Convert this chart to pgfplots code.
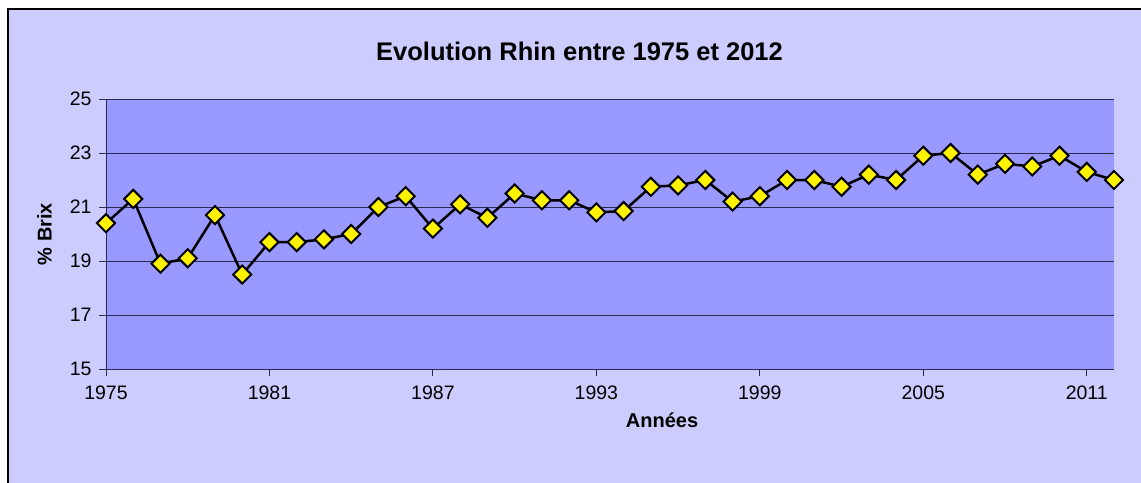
\documentclass[border=0pt]{standalone}
\usepackage{pgfplots}
\pgfplotsset{compat=1.18}
\usepackage{fontspec}
\setmainfont{Liberation Sans}
\definecolor{bglav}{HTML}{CCCCFF}
\definecolor{plotbg}{HTML}{9999FF}
\definecolor{gridc}{HTML}{2A2A50}
\begin{document}
\begin{tikzpicture}
\useasboundingbox (0,0) rectangle (1141bp,-483bp);
\fill[white] (0,0) rectangle (1141bp,-483bp);
\fill[bglav] (8bp,-9bp) rectangle (1141bp,-483bp);
\draw[black, line width=1.5bp] (8bp,-483bp) -- (8bp,-9bp) -- (1141bp,-9bp);
\begin{axis}[
  at={(106bp,-369bp)}, anchor=south west,
  scale only axis, width=1008bp, height=270bp,
  xmin=1975, xmax=2012, ymin=15, ymax=25,
  xtick={1975,1981,...,2011}, ytick={15,17,...,25},
  axis x line*=bottom, axis y line*=left,
  axis line style={gridc, line width=1bp, -},
  ymajorgrids, grid style={gridc, line width=1bp},
  xtick align=outside, ytick align=outside,
  xtick style={gridc, line width=1bp},
  ytick style={gridc, line width=1bp},
  major tick length=7bp,
  axis background/.style={fill=plotbg},
  clip=false,
  tick label style={font=\fontsize{19.5bp}{22bp}\selectfont},
  xticklabel style={yshift=-6bp},
  yticklabel style={xshift=-4bp},
  /pgf/number format/1000 sep={},
  /pgf/number format/assume math mode=true,
]
\addplot[black, line width=2.5bp, mark=square*, mark size=6.4bp,
  mark options={fill=yellow, draw=black, line width=2bp, rotate=45}] coordinates {
(1975,20.4) (1976,21.3) (1977,18.9) (1978,19.1) (1979,20.7) (1980,18.5)
(1981,19.7) (1982,19.7) (1983,19.8) (1984,20.0) (1985,21.0) (1986,21.4)
(1987,20.2) (1988,21.1) (1989,20.6) (1990,21.5) (1991,21.25) (1992,21.25)
(1993,20.8) (1994,20.85) (1995,21.75) (1996,21.8) (1997,22.0) (1998,21.2)
(1999,21.4) (2000,22.0) (2001,22.0) (2002,21.75) (2003,22.2) (2004,22.0)
(2005,22.9) (2006,23.0) (2007,22.2) (2008,22.6) (2009,22.5) (2010,22.9)
(2011,22.3) (2012,22.0)
};
\end{axis}
\node[font=\bfseries\fontsize{25.5bp}{30bp}\selectfont] at (579.5bp,-51bp) {Evolution Rhin entre 1975 et 2012};
\node[font=\bfseries\fontsize{20bp}{24bp}\selectfont, rotate=90] at (44.5bp,-234bp) {\% Brix};
\node[font=\bfseries\fontsize{20bp}{24bp}\selectfont] at (662bp,-420bp) {Années};
\end{tikzpicture}
\end{document}
